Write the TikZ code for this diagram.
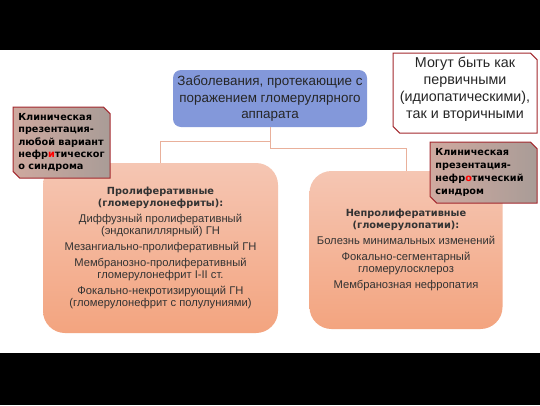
\documentclass[tikz,border=0pt]{standalone}
\usepackage{fontspec}
\setmainfont{Liberation Sans}
\newfontfamily\notefont{DejaVu Sans}
\usetikzlibrary{positioning, shapes.misc}

\definecolor{topblue}{HTML}{8398DA}
\definecolor{boxlight}{HTML}{F5C6B3}
\definecolor{boxdark}{HTML}{F3A47F}
\definecolor{linkcol}{HTML}{E9B09B}
\definecolor{noteborder}{HTML}{A3282E}
\definecolor{noterose}{HTML}{CFA99F}
\definecolor{notegray}{HTML}{A99C97}

\newcommand{\gtitle}[1]{{\notefont\bfseries\fontsize{9.8}{12}\selectfont #1}}

\begin{document}
\begin{tikzpicture}[
  x=1pt, y=-1pt,
  topbox/.style={rounded corners=8pt, fill=topblue, draw=none,
    align=center, minimum width=194pt, minimum height=57pt, text=black!85,
    font=\fontsize{13.4}{16.8}\selectfont},
  groupbox/.style={rounded corners=22pt, top color=boxlight, bottom color=boxdark, draw=none,
    align=center, text=black!80, font=\fontsize{11.2}{12}\selectfont},
  callout/.style={chamfered rectangle, chamfered rectangle corners={north east, south west},
    chamfered rectangle xsep=9pt, chamfered rectangle ysep=9pt, draw=noteborder, line width=1pt},
  clinic/.style={callout, left color=noterose, right color=notegray},
  cliniclabel/.style={align=left, font=\notefont\bfseries\fontsize{9.7}{12.4}\selectfont},
  link/.style={draw=linkcol, line width=0.9pt}
]

% Background and black bars
\useasboundingbox (0,0) rectangle (540,405);
\fill[white] (0,50) rectangle (540,353);
\fill[black] (0,0) rectangle (540,50);
\fill[black] (0,353) rectangle (540,405);

% Nodes
\node[topbox] (diseases) at (270,98.5) {Заболевания, протекающие с\\поражением гломерулярного\\аппарата};

\node[groupbox, minimum width=235pt, minimum height=170pt] (prolif) at (160.5,248)
  {\gtitle{Пролиферативные}\\\gtitle{(гломерулонефриты):}\\[4pt]
   Диффузный пролиферативный\\(эндокапиллярный) ГН\\[4pt]
   Мезангиально-пролиферативный ГН\\[4pt]
   Мембранозно-пролиферативный\\гломерулонефрит I-II ст.\\[4pt]
   Фокально-некротизирующий ГН\\(гломерулонефрит с полулуниями)};

\node[groupbox, minimum width=193pt, minimum height=158pt] (nonprolif) at (406,250)
  {\gtitle{Непролиферативные}\\\gtitle{(гломерулопатии):}\\[4pt]
   Болезнь минимальных изменений\\[4pt]
   Фокально-сегментарный\\гломерулосклероз\\[4pt]
   Мембранозная нефропатия};

% Connectors
\draw[link] (diseases.south) -- ++(0,14) -| (prolif.north);
\draw[link] (diseases.south) -- ++(0,21) -| (nonprolif.north);

% Callouts
\node[callout, fill=white, minimum width=144pt, minimum height=80pt] (origin) at (465,93) {};
\node[align=center, font=\fontsize{14.3}{17}\selectfont, text=black!85] (origintext) at (origin.center) [yshift=4pt]
  {Могут быть как\\первичными\\(идиопатическими),\\так и вторичными};

\node[clinic, minimum width=97pt, minimum height=71pt] (nephritic) at (61.5,142.5) {};
\node[cliniclabel] (nephritictext) at (nephritic.center)
  {Клиническая\\презентация-\\любой вариант\\нефр\textcolor{red}{и}тическог\\о синдрома};

\node[clinic, minimum width=107pt, minimum height=61pt] (nephrotic) at (483.5,172.5) {};
\node[cliniclabel, font=\notefont\bfseries\fontsize{9.7}{12.9}\selectfont] (nephrotictext)
  at (nephrotic.center) [xshift=-4pt]
  {Клиническая\\презентация-\\нефр\textcolor{red}{о}тический\\синдром};

\end{tikzpicture}
\end{document}
